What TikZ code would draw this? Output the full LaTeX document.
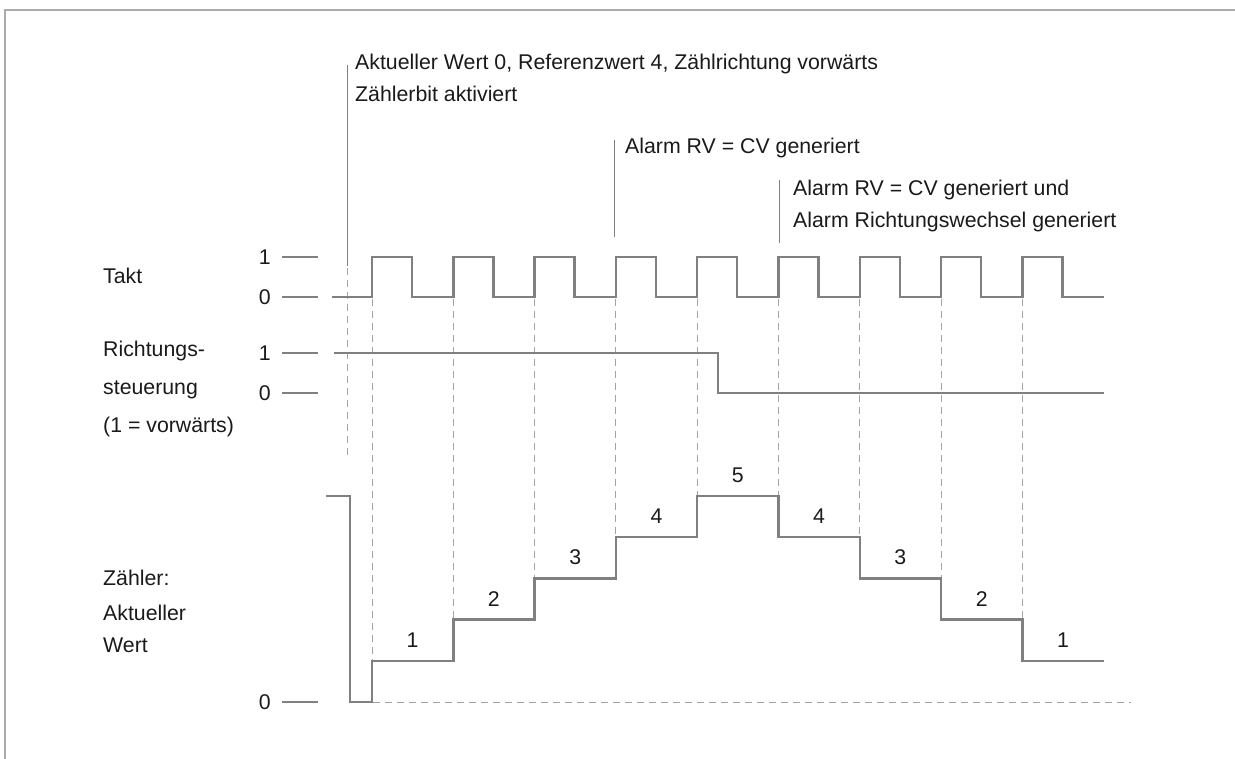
\documentclass[tikz,border=0pt]{standalone}
\usepackage{fontspec}
\setmainfont{Liberation Sans}
\usepackage{tikz}
\usetikzlibrary{positioning}
\definecolor{wave}{HTML}{808080}
\definecolor{guide}{HTML}{A3A3A3}
\definecolor{rim}{HTML}{ABABAB}
\definecolor{ink}{HTML}{1A1A1A}

\begin{document}
\begin{tikzpicture}[x=1pt,y=-1pt,font=\fontsize{21.3}{32.4}\selectfont,
  signal/.style={wave,line width=2.5pt},
  guideline/.style={guide,line width=1pt,dash pattern=on 7pt off 5pt},
  tick/.style={wave,line width=1.1pt},
  lbl/.style={anchor=base west,inner sep=0pt,text=ink},
  lvl/.style={anchor=east,inner sep=0pt,text=ink}]
  \useasboundingbox (0,0) rectangle (1235,759);
  % frame
  \draw[rim,line width=1.5pt] (5,759) -- (5,10) -- (1235,10);
  % left labels
  \node[lbl] (takt) at (103,284) {Takt};
  \node[lbl] (dir1) at (103,357) {Richtungs-};
  \node[lbl] (dir2) at (103,395) {steuerung};
  \node[lbl] (dir3) at (103,432) {(1 = vorwärts)};
  \node[lbl] (cnt1) at (103,585) {Zähler:};
  \node[lbl] (cnt2) at (103,620) {Aktueller};
  \node[lbl] (cnt3) at (103,652) {Wert};
  % level marks
  \foreach \y/\v [count=\i] in {257/1,297/0,353/1,393/0,702/0} {
    \draw[tick] (282,\y) -- (318,\y);
    \node[lvl] (lv\i) at (271,\y) {\v};
  }
  % guides down to the counter
  \foreach \m [count=\k from 0] in {1,2,3,4,5,5,4,3,2}
    \draw[guideline] ({372+81.3*\k},299) -- ({372+81.3*\k},{702-41.2*\m});
  \draw[guideline] (373,702) -- (1131,702);
  % annotations
  \coordinate (a1top) at (347,65);
  \coordinate (a1mid) at (347,266);
  \coordinate (a1end) at (347,457);
  \draw[tick,line width=1pt] (a1top) -- (a1mid);
  \draw[guideline] ([yshift=-2pt]a1mid) -- (a1end);
  \node[lbl] (note1) at (355,69.3) {Aktueller Wert 0, Referenzwert 4, Zählrichtung vorwärts};
  \node[lbl] (note2) at (355,101.7) {Zählerbit aktiviert};
  \coordinate (a2top) at (614,140);
  \coordinate (a2end) at (614,237);
  \draw[tick,line width=1pt] (a2top) -- (a2end);
  \node[lbl] (note3) at (625,153.5) {Alarm RV = CV generiert};
  \coordinate (a3top) at (779,180);
  \coordinate (a3end) at (779,243);
  \draw[tick,line width=1pt] (a3top) -- (a3end);
  \node[lbl] (note4) at (793,195.5) {Alarm RV = CV generiert und};
  \node[lbl] (note5) at (793,227.5) {Alarm Richtungswechsel generiert};
  % clock
  \draw[signal] (332,297) \foreach \k in {0,...,8} {
    -- ({372+81.3*\k},297) -- ++(0,-40) -- ++(40,0) -- ++(0,40) } -- (1104,297);
  % direction
  \draw[signal] (334,353) -- (718,353) -- (718,393) -- (1104,393);
  % counter
  \draw[signal] (326,496) -| (350,702)
    \foreach \n [count=\k from 0] in {1,2,3,4,5,4,3,2,1} {
      -| ({372+81.3*\k},{702-41.2*\n}) } -- (1104,{702-41.2});
  \foreach \n [count=\k from 0] in {1,2,3,4,5,4,3,2,1}
    \node[text=ink] (val\k) at ({372+81.3*\k+40.6},{702-41.2*\n-21}) {\n};
\end{tikzpicture}
\end{document}
